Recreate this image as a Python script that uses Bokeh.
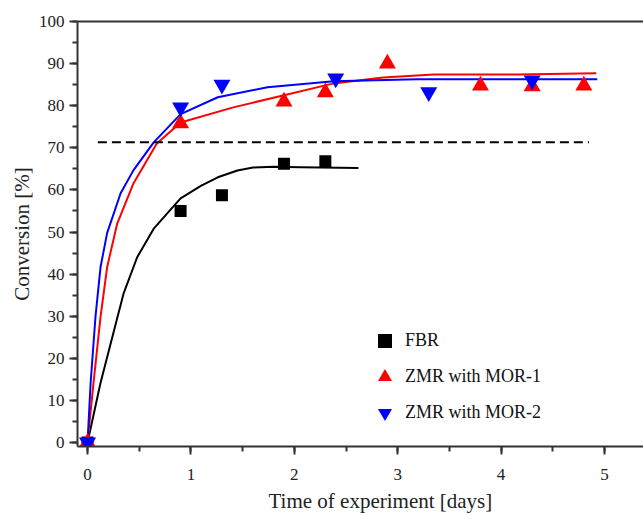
from bokeh.plotting import figure
from bokeh.models import (Range1d, LinearAxis, Legend, LegendItem, Title,
                          SingleIntervalTicker, FixedTicker)
from bokeh.embed import file_html
from bokeh.resources import INLINE

# ---- data ----
fbr_t = [0, 0.9, 1.3, 1.9, 2.3]
fbr_c = [0, 55.0, 58.7, 66.2, 66.8]

mor1_t = [0, 0.9, 1.9, 2.3, 2.9, 3.8, 4.3, 4.8]
mor1_c = [0, 75.8, 81.0, 83.2, 90.0, 84.8, 84.6, 84.8]

mor2_t = [0, 0.9, 1.3, 2.4, 3.3, 4.3]
mor2_c = [0, 79.6, 85.0, 86.5, 83.2, 86.0]

fbr_fit_t = [0, 0.126, 0.25, 0.35, 0.48, 0.64, 0.9, 1.1, 1.26, 1.45, 1.6, 1.8, 2.06, 2.62]
fbr_fit_c = [0, 14.2, 26.0, 35.5, 44.0, 50.8, 58.0, 61.0, 63.0, 64.6, 65.3, 65.5, 65.4, 65.2]

mor1_fit_t = [0, 0.058, 0.126, 0.19, 0.287, 0.445, 0.67, 0.9, 1.41, 1.9, 2.38, 2.86, 3.35, 4.16, 4.92]
mor1_fit_c = [0, 14.2, 29.9, 41.7, 52.0, 61.6, 71.0, 76.0, 79.6, 82.5, 85.3, 86.7, 87.4, 87.4, 87.7]

mor2_fit_t = [0, 0.03, 0.077, 0.126, 0.19, 0.32, 0.445, 0.64, 0.9, 1.26, 1.74, 2.38, 3.19, 4.93]
mor2_fit_c = [0, 14.2, 29.9, 41.7, 49.8, 59.2, 64.7, 71.3, 78.0, 82.0, 84.4, 85.8, 86.3, 86.3]

thr_t = [0.1, 4.85]
thr_c = [71.3, 71.3]

labels = ["FBR", "ZMR with MOR-1", "ZMR with MOR-2"]
x_title = "Time of experiment [days]"
y_title = "Conversion [%]"

FONT = "Liberation Serif, Times New Roman, serif"
AX = "#333333"

p = figure(width=643, height=516,
           x_range=Range1d(-0.097, 5.377), y_range=Range1d(-0.95, 100),
           output_backend="svg", toolbar_location=None,
           min_border_left=77, min_border_right=0,
           min_border_top=21, min_border_bottom=69)
p.grid.visible = False
p.outline_line_color = None
p.background_fill_color = "white"
p.border_fill_color = "white"

p.xaxis.ticker = SingleIntervalTicker(interval=1, num_minor_ticks=2)
p.yaxis.ticker = SingleIntervalTicker(interval=10, num_minor_ticks=2)
for ax in p.axis:
    ax.axis_line_width = 2
    ax.axis_line_color = AX
    ax.major_tick_line_width = 2
    ax.minor_tick_line_width = 2
    ax.major_tick_line_color = AX
    ax.minor_tick_line_color = AX
    ax.major_tick_in = 0
    ax.major_tick_out = 8
    ax.minor_tick_in = 0
    ax.minor_tick_out = 5
    ax.major_label_text_font = FONT
    ax.major_label_text_font_size = "17px"
    ax.major_label_text_color = "#222222"
p.xaxis.major_label_standoff = 14

p.yaxis.axis_label = y_title
p.yaxis.axis_label_text_font = FONT
p.yaxis.axis_label_text_font_size = "21px"
p.yaxis.axis_label_text_font_style = "normal"
p.yaxis.axis_label_text_color = "#222222"
p.yaxis.axis_label_standoff = 2

top = LinearAxis(ticker=FixedTicker(ticks=[]), major_label_text_font_size="0px",
                 major_tick_line_color=None, minor_tick_line_color=None,
                 axis_line_width=2, axis_line_color=AX)
p.add_layout(top, "above")

p.add_layout(Title(text=x_title, align="left", offset=191, standoff=8,
                   text_font=FONT, text_font_size="21px",
                   text_font_style="normal", text_color="#222222"), "below")

# fitted curves
p.line(fbr_fit_t, fbr_fit_c, line_color="black", line_width=2)
p.line(mor1_fit_t, mor1_fit_c, line_color="#ff0000", line_width=2)
p.line(mor2_fit_t, mor2_fit_c, line_color="#0000ff", line_width=2)
p.line(thr_t, thr_c, line_color="black", line_width=2, line_dash="9 5")

# markers
r1 = p.scatter(fbr_t, fbr_c, marker="square", size=12, fill_color="black", line_color=None)
r2 = p.scatter(mor1_t, mor1_c, marker="triangle", size=17, fill_color="#ff0000", line_color=None)
r3 = p.scatter(mor2_t, mor2_c, marker="inverted_triangle", size=17, fill_color="#0000ff", line_color=None)

legend = Legend(items=[LegendItem(label=labels[0], renderers=[r1]),
                       LegendItem(label=labels[1], renderers=[r2]),
                       LegendItem(label=labels[2], renderers=[r3])],
                location=(290, 16), glyph_width=35, glyph_height=35,
                label_height=35, spacing=1, label_standoff=3,
                padding=0, margin=0, border_line_color=None,
                background_fill_alpha=0,
                label_text_font=FONT, label_text_font_size="18px",
                label_text_color="#111111")
p.add_layout(legend)

open("out.html", "w").write(file_html(p, INLINE))
